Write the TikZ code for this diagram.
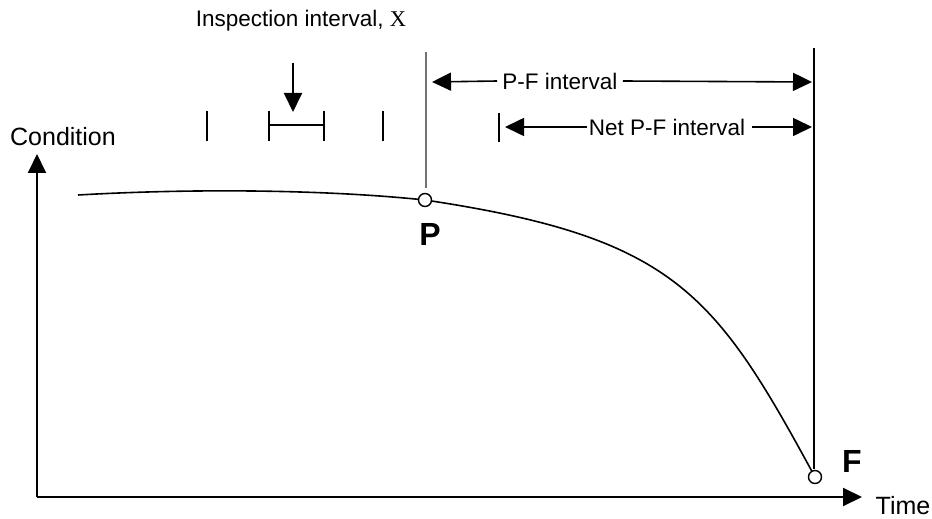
\documentclass[tikz,border=0pt]{standalone}
\usepackage{fontspec}
\setmainfont{Liberation Sans}
\newfontfamily\serifx{Liberation Serif}
\usetikzlibrary{arrows.meta}

\begin{document}
\begin{tikzpicture}[x=0.5pt, y=-0.5pt, >={Triangle[length=9.5pt,width=9pt]},
  lbl/.style={inner xsep=2.5pt, inner ysep=1pt, font=\fontsize{11.25}{13}\selectfont},
  axlbl/.style={inner sep=1pt, font=\fontsize{12.5}{15}\selectfont},
  ptlbl/.style={inner sep=1pt, font=\fontsize{16}{18}\selectfont\bfseries},
  pt/.style={circle, draw, fill=white, inner sep=0pt, minimum size=6.5pt, line width=0.7pt},
  tickline/.style={line width=1pt}]
  \useasboundingbox (0,0) rectangle (932,519);
  % axes
  \coordinate (O) at (37,497);
  \coordinate (ytop) at (37,154);
  \coordinate (xend) at (862,497);
  \draw[->, line width=1pt] (O) -- (ytop);
  \draw[->, line width=1pt] (O) -- (xend);
  \node[axlbl] (cond) at (63,137) {Condition};
  \node[axlbl] (time) at (903,506) {Time};
  % condition curve
  \coordinate (c0) at (78,195);
  \coordinate (p) at (425,200);
  \coordinate (f) at (815,477);
  \draw[line width=0.8pt] (c0) .. controls (200,188) and (330,190) .. (p)
    .. controls (675,237.5) and (715,293) .. (f);
  \node[pt] (P) at (p) {};
  \node[pt] (F) at (f) {};
  \node[ptlbl] (Plbl) at (430,234) {P};
  \node[ptlbl] (Flbl) at (852,461) {F};
  % vertical markers
  \coordinate (ptop) at (426,52);
  \coordinate (pbot) at (426,188);
  \coordinate (ftop) at (814,48);
  \coordinate (fbot) at (814,469);
  \draw[gray!90!black, line width=1pt] (pbot) -- (ptop);
  \draw[line width=1pt] (fbot) -- (ftop);
  % P-F intervals
  \coordinate (pfl) at (432,82);
  \coordinate (pfr) at (812,82);
  \node[lbl] (pf) at (560,81) {P-F interval};
  \draw[->, line width=0.8pt] (pf.west) -- (pfl);
  \draw[->, line width=0.8pt] (pf.east) -- (pfr);
  \coordinate (npl) at (505,127);
  \coordinate (npr) at (812,127);
  \node[lbl, inner xsep=0.5pt] (npf) at (667,127) {Net P-F interval};
  \draw[->, line width=0.8pt] (npf.west) -- (npl);
  \draw[->, line width=0.8pt] (npf.east) ++(2.5pt,0) -- (npr);
  \draw[tickline] (499,113) -- (499,142);
  % inspection ticks
  \foreach \x [count=\i] in {207,269,324,383}
    \coordinate (t\i) at (\x,125);
  \foreach \i in {1,...,4}
    \draw[tickline] (t\i) ++(0,-14) -- ++(0,30);
  \draw[line width=0.8pt] (t2) -- (t3);
  \node[lbl] (insp) at (301,21) {Inspection interval, {\serifx X}};
  \coordinate (ain) at (293,63);
  \coordinate (aout) at (293,112);
  \draw[->, line width=1pt] (ain) -- (aout);
\end{tikzpicture}
\end{document}
